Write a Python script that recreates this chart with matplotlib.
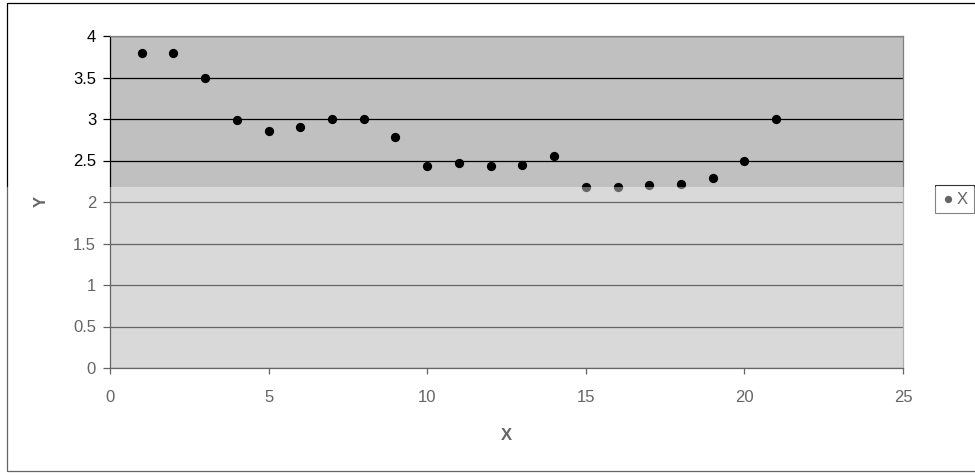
import matplotlib.pyplot as plt
from matplotlib.patches import Rectangle

plt.rcParams['font.family'] = ['Liberation Sans', 'DejaVu Sans']

# data points
x_vals = [1, 2, 3, 4, 5, 6, 7, 8, 9, 10, 11, 12, 13, 14, 15, 16, 17, 18, 19, 20, 21]
y_vals = [3.8, 3.8, 3.5, 2.99, 2.85, 2.9, 3.0, 3.0, 2.78, 2.43, 2.47, 2.43, 2.45, 2.55,
          2.18, 2.18, 2.2, 2.22, 2.29, 2.5, 3.0]
series_name = 'X'
x_ticks = [0, 5, 10, 15, 20, 25]
y_ticks = [0, 0.5, 1, 1.5, 2, 2.5, 3, 3.5, 4]

W, H = 975, 475
fig = plt.figure(figsize=(W / 100, H / 100), dpi=100)
fig.patch.set_facecolor('white')

# chart border (right edge runs off the page)
fig.add_artist(Rectangle((7 / W, 1 - 471 / H), 1.2, (471 - 3) / H,
                         transform=fig.transFigure, fill=False,
                         edgecolor='black', linewidth=0.9, clip_on=False))

ax = fig.add_axes([110 / W, 1 - 368 / H, (903 - 110) / W, (368 - 36) / H])
ax.set_facecolor('#c0c0c0')
ax.scatter(x_vals, y_vals, s=32, color='black', zorder=3, label=series_name)

ax.set_xlim(0, 25)
ax.set_ylim(0, 4)
ax.set_xticks(x_ticks)
ax.set_yticks(y_ticks)
ax.set_yticklabels(['0', '0.5', '1', '1.5', '2', '2.5', '3', '3.5', '4'])
ax.yaxis.grid(True, color='black', linewidth=0.9)
ax.set_axisbelow(True)

for side in ['top', 'right']:
    ax.spines[side].set_color('#808080')
    ax.spines[side].set_linewidth(0.9)
for side in ['left', 'bottom']:
    ax.spines[side].set_color('black')
    ax.spines[side].set_linewidth(0.9)

ax.tick_params(axis='y', direction='out', length=5, width=0.9, pad=5, labelsize=12, colors='black')
ax.tick_params(axis='x', direction='out', length=4.5, width=0.9, pad=11, labelsize=12, colors='black')

fig.text(506 / W, 1 - 435 / H, 'X', ha='center', va='center', fontsize=12, fontweight='bold')
fig.text(41 / W, 1 - 201 / H, 'Y', ha='center', va='center', fontsize=12, fontweight='bold', rotation=90)

leg = fig.legend(loc='upper left', bbox_to_anchor=(935 / W, 1 - 185 / H),
                 frameon=True, fancybox=False, fontsize=12, markerscale=0.75,
                 handletextpad=0.1, borderpad=0.4, handlelength=0.8,
                 borderaxespad=0)
leg.get_frame().set_edgecolor('black')
leg.get_frame().set_linewidth(0.8)

# lighter wash over the lower part of the page
fig.add_artist(Rectangle((0, 0), 1, 1 - 187 / H, transform=fig.transFigure,
                         facecolor='white', edgecolor='none', alpha=0.4, zorder=10))

fig.savefig('out.png', dpi=100)
